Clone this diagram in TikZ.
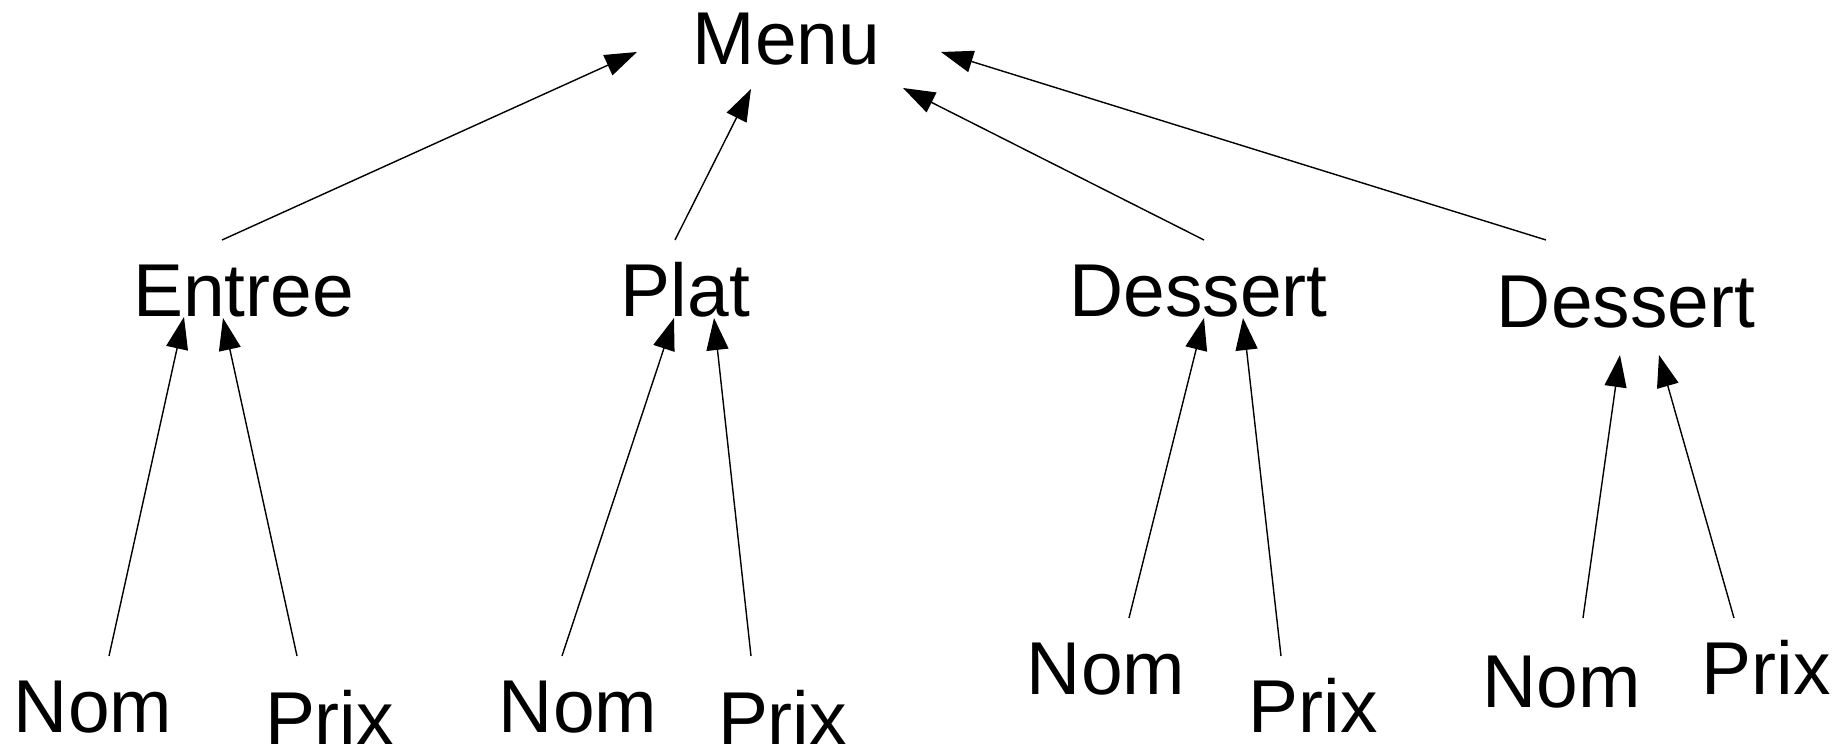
\documentclass[tikz,border=0pt]{standalone}
\usepackage{fontspec}
\setmainfont{Liberation Sans}
\usetikzlibrary{calc,arrows.meta}

\begin{document}
\begin{tikzpicture}[x=0.01cm, y=-0.01cm, line width=0.4pt,
  lbl/.style={anchor=base, inner sep=0pt, text depth=0pt, font=\fontsize{21.3pt}{24pt}\selectfont},
  arr/.style={-{Triangle[length=3.2mm,width=2.2mm]}}]
\useasboundingbox (0,0) rectangle (1844,755);
% racine
\node[lbl] (menu) at (786.5,65) {Menu};
% plats
\node[lbl] (entree) at (243.5,317) {Entree};
\node[lbl] (plat) at (685.5,317) {Plat};
\node[lbl] (dessertA) at (1198.5,317) {Dessert};
\node[lbl] (dessertB) at (1626,328) {Dessert};
% attributs
\node[lbl] (nomA) at (93,733) {Nom};
\node[lbl] (prixA) at (329.5,745) {Prix};
\node[lbl] (nomB) at (578,733) {Nom};
\node[lbl] (prixB) at (782.5,745) {Prix};
\node[lbl] (nomC) at (1106,695) {Nom};
\node[lbl] (prixC) at (1313,733) {Prix};
\node[lbl] (nomD) at (1561.5,708) {Nom};
\node[lbl] (prixD) at (1766,695) {Prix};

\draw[arr] ($(entree.base)+(-21.5,-77)$) -- ($(menu.base)+(-149.5,-13)$);
\draw[arr] ($(plat.base)+(-10.5,-77)$) -- ($(menu.base)+(-35.5,24)$);
\draw[arr] ($(dessertA.base)+(5.5,-77)$) -- ($(menu.base)+(116.5,23)$);
\draw[arr] ($(dessertB.base)+(-80,-88)$) -- ($(menu.base)+(154.5,-13)$);

\draw[arr] ($(nomA.base)+(16,-77)$) -- ($(entree.base)+(-59.5,0)$);
\draw[arr] ($(prixA.base)+(-32.5,-89)$) -- ($(entree.base)+(-20.5,1)$);
\draw[arr] ($(nomB.base)+(-16,-77)$) -- ($(plat.base)+(-11.5,1)$);
\draw[arr] ($(prixB.base)+(-31.5,-89)$) -- ($(plat.base)+(28.5,1)$);
\draw[arr] ($(nomC.base)+(23,-77)$) -- ($(dessertA.base)+(5.5,1)$);
\draw[arr] ($(prixC.base)+(-32,-77)$) -- ($(dessertA.base)+(44.5,1)$);
\draw[arr] ($(nomD.base)+(21.5,-90)$) -- ($(dessertB.base)+(-6,27)$);
\draw[arr] ($(prixD.base)+(-32,-77)$) -- ($(dessertB.base)+(33,27)$);
\end{tikzpicture}
\end{document}
